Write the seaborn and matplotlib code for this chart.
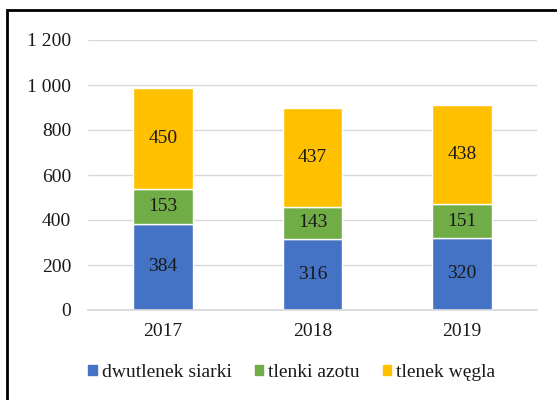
import matplotlib
matplotlib.use("Agg")
import matplotlib.pyplot as plt
import numpy as np
import pandas as pd
import seaborn as sns
from matplotlib.patches import Rectangle
from matplotlib.ticker import FuncFormatter

years = ["2017", "2018", "2019"]
so2 = [384, 316, 320]
nox = [153, 143, 151]
co = [450, 437, 438]
series_names = ["dwutlenek siarki", "tlenki azotu", "tlenek węgla"]
colors = ["#4472C4", "#70AD47", "#FFC000"]

sns.set_theme(style="white")
plt.rcParams["font.family"] = ["Liberation Serif", "DejaVu Serif"]

fig = plt.figure(figsize=(5.57, 4.0), dpi=100)
ax = fig.add_axes([88 / 557, 1 - 310 / 400, (537 - 88) / 557, 270 / 400])

values = [so2, nox, co]
bottom = np.zeros(len(years))
for name, vals, color in zip(series_names, values, colors):
    df = pd.DataFrame({"year": years, "value": vals})
    sns.barplot(data=df, x="year", y="value", color=color, width=0.4,
                bottom=bottom.copy(), ax=ax, label=name, saturation=1)
    bottom += np.array(vals)

for container in ax.containers:
    ax.bar_label(container, labels=[f"{int(b.get_height())}" for b in container],
                 label_type="center", fontsize=14, color="#1a1a1a")

ax.set_ylim(0, 1200)
ax.set_xlim(-0.5, 2.5)
ax.set_yticks(range(0, 1201, 200))
ax.yaxis.set_major_formatter(FuncFormatter(lambda v, _: f"{int(v):,}".replace(",", " ")))
ax.grid(axis="y", color="#D9D9D9", linewidth=1)
ax.set_axisbelow(True)
for s in ["top", "right", "left"]:
    ax.spines[s].set_visible(False)
ax.spines["bottom"].set_color("#D9D9D9")
ax.set_xlabel("")
ax.set_ylabel("")
ax.tick_params(axis="both", length=0, labelsize=14, colors="#1a1a1a")
ax.tick_params(axis="x", pad=9)
ax.tick_params(axis="y", pad=12)

handles = [Rectangle((0, 0), 1, 1, color=c) for c in colors]
leg = ax.legend(handles, series_names, loc="center", bbox_to_anchor=(0.454, -0.232),
                ncol=3, frameon=False, fontsize=14, handlelength=0.42,
                handleheight=0.42, handletextpad=0.26, columnspacing=1.2)
for t in leg.get_texts():
    t.set_color("#1a1a1a")

fig.patches.append(Rectangle((7 / 557, -0.1), 1.2, 1 - 10 / 400 + 0.1,
                             transform=fig.transFigure, fill=False,
                             edgecolor="black", linewidth=2))

fig.savefig("out.png", dpi=100)
